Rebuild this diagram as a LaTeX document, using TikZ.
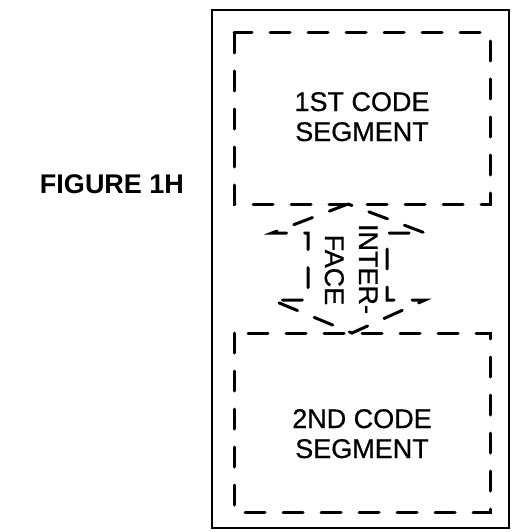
\documentclass[tikz,border=0pt]{standalone}
\usepackage{fontspec}
\setmainfont{Liberation Sans}
\newfontfamily\scanfont[FakeBold=0.6]{Liberation Sans}
\begin{document}
\begin{tikzpicture}[x=1pt,y=-1pt,
  frame/.style={line width=2.6pt},
  dashbox/.style={line width=3pt,dash pattern=on 20pt off 18pt,line cap=round},
  lbl/.style={font=\scanfont\fontsize{27}{29}\selectfont,anchor=base,inner sep=0pt},
  title/.style={font=\fontsize{27}{30}\selectfont\bfseries,anchor=base,inner sep=0pt},
  vlbl/.style={font=\scanfont\fontsize{27}{29}\selectfont,anchor=base,inner sep=0pt,rotate=-90}]
\useasboundingbox (0,0) rectangle (512,532);
% outer frame
\draw[frame] (212,10) rectangle (509,528);
% code segment boxes
\draw[dashbox] (234,33) rectangle (490,204);
\draw[dashbox] (234,333) rectangle (490,512);
% interface double arrow
\draw[dashbox] (348,204) -- (272,233) -- (308,233) -- (308,300) -- (272,300)
  -- (352,333) -- (425,300) -- (387,300) -- (387,233) -- (425,233) -- cycle;
% texts
\node[title] (fig) at (112,193) {FIGURE 1H};
\node[lbl] (s1a) at (362,111) {1ST CODE};
\node[lbl] (s1b) at (362,141) {SEGMENT};
\node[lbl] (s2a) at (362,428) {2ND CODE};
\node[lbl] (s2b) at (362,458) {SEGMENT};
\node[vlbl] (if1) at (359,269) {INTER-};
\node[vlbl] (if2) at (325,270) {FACE};
\end{tikzpicture}
\end{document}
